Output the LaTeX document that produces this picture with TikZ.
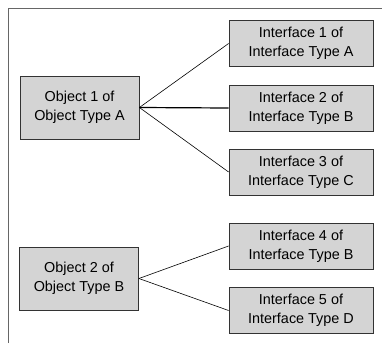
\documentclass[tikz,border=0pt]{standalone}
\usepackage{fontspec}
\setmainfont{Liberation Sans}
\begin{document}
\begin{tikzpicture}[x=1pt,y=-1pt,
  box/.style={draw=black!80, fill=black!17, line width=0.8pt, minimum width=119pt, minimum height=63pt, align=center, font=\fontsize{14.4}{19.3}\selectfont, inner sep=0pt},
  ibox/.style={box, minimum width=144pt, minimum height=46pt},
  conn/.style={draw=black, line width=0.6pt}]
\useasboundingbox (0,0) rectangle (382,343);
\draw[black!60, line width=1pt] (8,343) -- (8,8) -- (382,8);
\node[box] (o1) at (79.5,107.5) {Object 1 of\\Object Type A};
\node[box] (o2) at (79,278.5) {Object 2 of\\Object Type B};
\node[ibox] (i1) at (301,43.5) {Interface 1 of\\Interface Type A};
\node[ibox] (i2) at (301,108) {Interface 2 of\\Interface Type B};
\node[ibox] (i3) at (301,172) {Interface 3 of\\Interface Type C};
\node[ibox] (i4) at (301,246) {Interface 4 of\\Interface Type B};
\node[ibox] (i5) at (301,310.5) {Interface 5 of\\Interface Type D};
\draw[conn] (o1.east) -- (i1.west);
\draw[conn, line width=1.2pt] (o1.east) -- (i2.west);
\draw[conn] (o1.east) -- (i3.west);
\draw[conn] (o2.east) -- (i4.west);
\draw[conn] (o2.east) -- (i5.west);
\end{tikzpicture}
\end{document}
